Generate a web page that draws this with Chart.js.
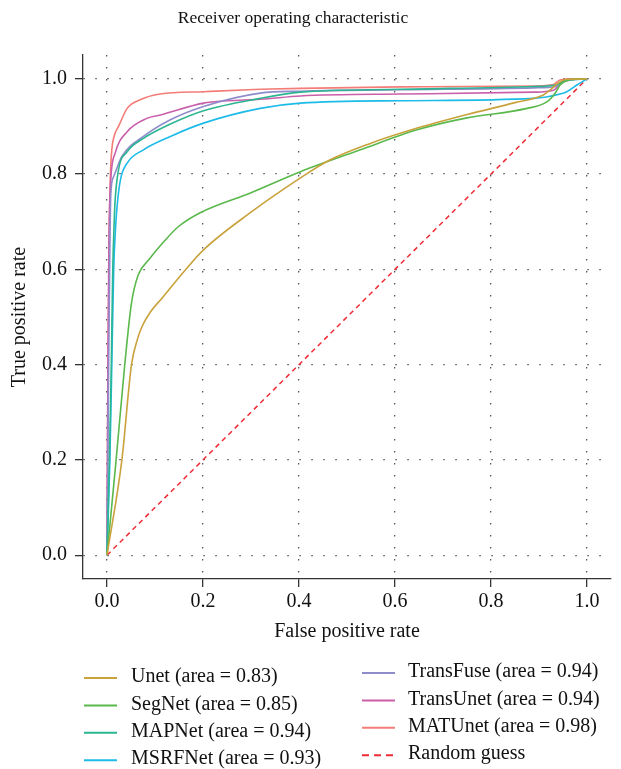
<!DOCTYPE html>
<html>
<head>
<meta charset="utf-8">
<script src="https://cdn.jsdelivr.net/npm/chart.js@4.4.1/dist/chart.umd.min.js"></script>
<style>
    html, body { margin: 0; padding: 0; background: #fff; }
    #wrap { width: 621px; height: 769px; }
</style>
</head>
<body>
<div id="wrap"><canvas id="roc"></canvas></div>
<script>
const modelNames = ['Unet', 'SegNet', 'MAPNet', 'MSRFNet', 'TransFuse', 'TransUnet', 'MATUnet'];
const modelAuc = [0.83, 0.85, 0.94, 0.93, 0.94, 0.94, 0.98];
const modelColors = ['#c9a23c', '#5ab84c', '#2bb591', '#1dbbe8', '#8f8ccc', '#c95fab', '#f47d78'];

// false / true positive rates per model
const unetFpr = [0, 0.031, 0.051, 0.063, 0.073, 0.09, 0.115, 0.16, 0.2, 0.3, 0.4, 0.465, 0.55, 0.638, 0.75, 0.85, 0.909, 0.925, 0.94, 0.958, 1.0];
const unetTpr = [0, 0.2, 0.4, 0.452, 0.48, 0.51, 0.54, 0.595, 0.64, 0.72, 0.79, 0.83, 0.865, 0.894, 0.925, 0.95, 0.966, 0.978, 0.991, 0.999, 1.0];

const segnetFpr = [0, 0.019, 0.037, 0.051, 0.065, 0.087, 0.12, 0.149, 0.194, 0.3, 0.403, 0.528, 0.646, 0.75, 0.875, 0.917, 0.935, 0.944, 0.965, 1.0];
const segnetTpr = [0, 0.2, 0.4, 0.529, 0.588, 0.62, 0.66, 0.69, 0.719, 0.761, 0.805, 0.851, 0.893, 0.918, 0.938, 0.952, 0.972, 0.987, 0.998, 1.0];

const mapnetFpr = [0, 0.005, 0.009, 0.012, 0.015, 0.017, 0.024, 0.042, 0.076, 0.132, 0.201, 0.319, 0.403, 0.611, 0.889, 0.935, 0.955, 1.0];
const mapnetTpr = [0, 0.2, 0.4, 0.6, 0.7, 0.746, 0.809, 0.847, 0.875, 0.905, 0.933, 0.959, 0.972, 0.978, 0.984, 0.987, 0.996, 1.0];

const msrfnetFpr = [0, 0.006, 0.01, 0.014, 0.018, 0.021, 0.028, 0.042, 0.076, 0.132, 0.201, 0.319, 0.403, 0.611, 0.889, 0.944, 0.958, 0.979, 1.0];
const msrfnetTpr = [0, 0.2, 0.4, 0.6, 0.69, 0.732, 0.788, 0.823, 0.851, 0.879, 0.907, 0.938, 0.949, 0.954, 0.959, 0.968, 0.973, 0.987, 1.0];

const transfuseFpr = [0, 0.003, 0.006, 0.008, 0.014, 0.031, 0.076, 0.132, 0.201, 0.319, 0.403, 0.611, 0.889, 0.935, 0.955, 1.0];
const transfuseTpr = [0, 0.35, 0.65, 0.76, 0.795, 0.837, 0.879, 0.914, 0.942, 0.97, 0.974, 0.977, 0.981, 0.984, 0.995, 1.0];

const transunetFpr = [0, 0.002, 0.004, 0.007, 0.017, 0.042, 0.083, 0.111, 0.201, 0.25, 0.319, 0.403, 0.611, 0.889, 0.93, 0.95, 0.965, 1.0];
const transunetTpr = [0, 0.4, 0.65, 0.774, 0.844, 0.889, 0.917, 0.924, 0.949, 0.954, 0.957, 0.964, 0.968, 0.972, 0.976, 0.996, 0.999, 1.0];

const matunetFpr = [0, 0.002, 0.005, 0.007, 0.01, 0.015, 0.024, 0.042, 0.069, 0.111, 0.201, 0.319, 0.403, 0.611, 0.889, 0.93, 0.945, 1.0];
const matunetTpr = [0, 0.4, 0.7, 0.795, 0.851, 0.88, 0.9, 0.938, 0.956, 0.968, 0.973, 0.978, 0.98, 0.983, 0.985, 0.988, 0.998, 1.0];

const guessFpr = [0, 1];
const guessTpr = [0, 1];

const tickValues = [0, 0.2, 0.4, 0.6, 0.8, 1.0];

const curves = [
    [unetFpr, unetTpr],
    [segnetFpr, segnetTpr],
    [mapnetFpr, mapnetTpr],
    [msrfnetFpr, msrfnetTpr],
    [transfuseFpr, transfuseTpr],
    [transunetFpr, transunetTpr],
    [matunetFpr, matunetTpr],
];

const serif = "'Liberation Serif', 'DejaVu Serif', serif";
const guessColor = '#ef2b35';

function toPoints(xs, ys) {
    return xs.map((x, i) => ({ x: x, y: ys[i] }));
}

const datasets = curves.map(([fpr, tpr], i) => ({
    label: `${modelNames[i]} (area = ${modelAuc[i].toFixed(2)})`,
    data: toPoints(fpr, tpr),
    borderColor: modelColors[i],
    borderWidth: 1.6,
    pointRadius: 0,
    cubicInterpolationMode: 'monotone',
}));

datasets.push({
    label: 'Random guess',
    data: toPoints(guessFpr, guessTpr),
    borderColor: guessColor,
    borderWidth: 1.5,
    borderDash: [5, 4],
    pointRadius: 0,
});

// title + two-column legend under the plot
const annotations = {
    id: 'annotations',
    afterDraw(chart) {
        const ctx = chart.ctx;
        ctx.save();
        ctx.fillStyle = '#111';
        ctx.font = `17.5px ${serif}`;
        ctx.textAlign = 'center';
        ctx.textBaseline = 'middle';
        ctx.fillText('Receiver operating characteristic', 293, 18);

        const items = chart.data.datasets;
        const cols = [
            { lineX: 84, textX: 131, y0: 678, idx: [0, 1, 2, 3] },
            { lineX: 362, textX: 408, y0: 673, idx: [4, 5, 6, 7] },
        ];
        ctx.font = `20px ${serif}`;
        ctx.textAlign = 'left';
        cols.forEach((col) => {
            col.idx.forEach((d, row) => {
                const ds = items[d];
                const y = col.y0 + row * 27.4;
                ctx.beginPath();
                ctx.lineWidth = 2;
                ctx.strokeStyle = ds.borderColor;
                ctx.setLineDash(ds.borderDash ? [7, 5] : []);
                ctx.moveTo(col.lineX, y);
                ctx.lineTo(col.lineX + 33, y);
                ctx.stroke();
                ctx.setLineDash([]);
                ctx.fillStyle = '#111';
                ctx.fillText(ds.label, col.textX, y - 1);
            });
        });
        ctx.restore();
    },
};

function axisOptions(titleText, titlePadding, labelPadding) {
    return {
        type: 'linear',
        min: -0.05,
        max: 1.05,
        afterBuildTicks: (scale) => {
            scale.ticks = tickValues.map((v) => ({ value: v }));
        },
        ticks: {
            color: '#111',
            font: { family: serif, size: 20 },
            padding: labelPadding,
            maxRotation: 0,
            callback: (value) => Number(value).toFixed(1),
        },
        grid: {
            color: '#555',
            lineWidth: 1.3,
            tickLength: 8,
            tickColor: '#333',
            tickWidth: 1.3,
        },
        border: {
            display: true,
            color: '#333',
            width: 1.3,
            dash: [1.5, 10.5],
        },
        title: {
            display: true,
            text: titleText,
            color: '#111',
            font: { family: serif, size: 20 },
            padding: titlePadding,
        },
    };
}

const xAxis = axisOptions('False positive rate', { top: 0, bottom: 0 }, 3);
xAxis.afterFit = (scale) => { scale.height = 65; };
const yAxis = axisOptions('True positive rate', { top: 8, bottom: 0 }, 8);
yAxis.afterFit = (scale) => { scale.width = 83; };

new Chart(document.getElementById('roc').getContext('2d'), {
    type: 'line',
    data: { datasets: datasets },
    options: {
        responsive: true,
        maintainAspectRatio: false,
        animation: false,
        layout: { padding: { top: 55, right: 10, bottom: 125, left: 0 } },
        scales: { x: xAxis, y: yAxis },
        plugins: {
            legend: { display: false },
            tooltip: { enabled: false },
        },
    },
    plugins: [annotations],
});
</script>
</body>
</html>
